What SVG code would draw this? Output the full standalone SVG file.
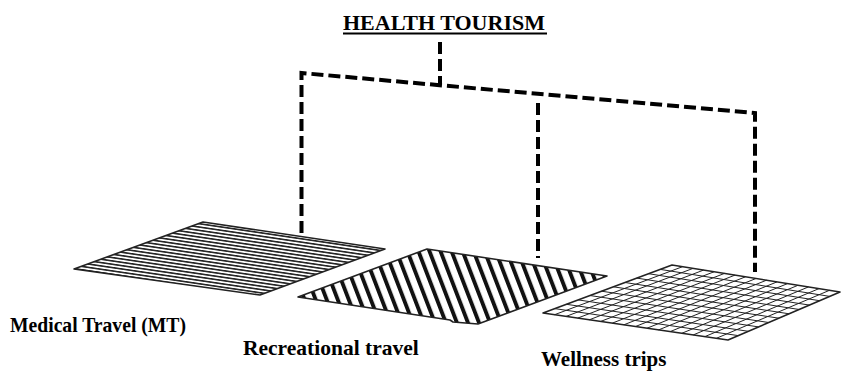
<svg xmlns="http://www.w3.org/2000/svg" width="841" height="371" viewBox="0 0 841 371">
  <defs>
    <style>
      .lbl { font-family: "Liberation Serif", "Times New Roman", serif; font-weight: bold; font-size: 21.5px; fill: #000; }
      .title { font-family: "Liberation Serif", "Times New Roman", serif; font-weight: bold; font-size: 22px; fill: #000; }
      .dash { fill: none; stroke: #000; stroke-width: 4; stroke-dasharray: 12 5; }
      .edge { stroke: #222; stroke-width: 1.6; stroke-linejoin: round; }
      .grid { stroke: #222; stroke-width: 1; fill: none; }
    </style>
    <pattern id="hstripe" patternUnits="userSpaceOnUse" width="20" height="3.3" patternTransform="rotate(8.4)">
      <rect width="20" height="1.6" fill="#222"/>
    </pattern>
    <pattern id="dstripe" patternUnits="userSpaceOnUse" width="10.3" height="20" patternTransform="rotate(-21)">
      <rect width="3.9" height="20" fill="#111"/>
    </pattern>
  </defs>
  <rect width="841" height="371" fill="#fff"/>

  <g id="title">
    <text class="title" x="343" y="30">HEALTH TOURISM</text>
    <line x1="343" y1="33.5" x2="547" y2="33.5" stroke="#000" stroke-width="2"/>
  </g>

  <g id="connectors">
    <path class="dash" d="M440,42 V85"/>
    <path class="dash" d="M301.5,233 V73 L755,113 V272"/>
    <path class="dash" d="M538,103 V258"/>
  </g>

  <g id="medical">
    <polygon points="74,269 203,222 385,249 260,295" fill="#fff"/>
    <polygon class="edge" points="74,269 203,222 385,249 260,295" fill="url(#hstripe)"/>
    <text class="lbl" x="10" y="332" style="font-size:21px" textLength="176" lengthAdjust="spacingAndGlyphs">Medical Travel (MT)</text>
  </g>

  <g id="recreational">
    <polygon points="298,297 427,249 607,276 478,324 453,322 450,320" fill="#fff"/>
    <polygon class="edge" points="298,297 427,249 607,276 478,324 453,322 450,320" fill="url(#dstripe)"/>
    <text class="lbl" x="243" y="355">Recreational travel</text>
  </g>

  <g id="wellness">
    <polygon class="edge" points="543,313 672,265 840,292 728,340" fill="#fff"/>
    <path class="grid" d="M554.7,308.6 L738.2,335.6 M566.5,304.3 L748.4,331.3 M578.2,299.9 L758.5,326.9 M589.9,295.5 L768.7,322.5 M601.6,291.2 L778.9,318.2 M613.4,286.8 L789.1,313.8 M625.1,282.5 L799.3,309.5 M636.8,278.1 L809.5,305.1 M648.5,273.7 L819.6,300.7 M660.3,269.4 L829.8,296.4
      M554.6,314.7 L682.5,266.7 M566.1,316.4 L693,268.4 M577.7,318.1 L703.5,270.1 M589.3,319.8 L714,271.8 M600.8,321.4 L724.5,273.4 M612.4,323.1 L735,275.1 M623.9,324.8 L745.5,276.8 M635.5,326.5 L756,278.5 M647.1,328.2 L766.5,280.2 M658.6,329.9 L777,281.9 M670.2,331.6 L787.5,283.6 M681.8,333.3 L798,285.3 M693.3,334.9 L808.5,286.9 M704.9,336.6 L819,288.6 M716.4,338.3 L829.5,290.3"/>
    <text class="lbl" x="541" y="366" style="font-size:21px">Wellness trips</text>
  </g>
</svg>
